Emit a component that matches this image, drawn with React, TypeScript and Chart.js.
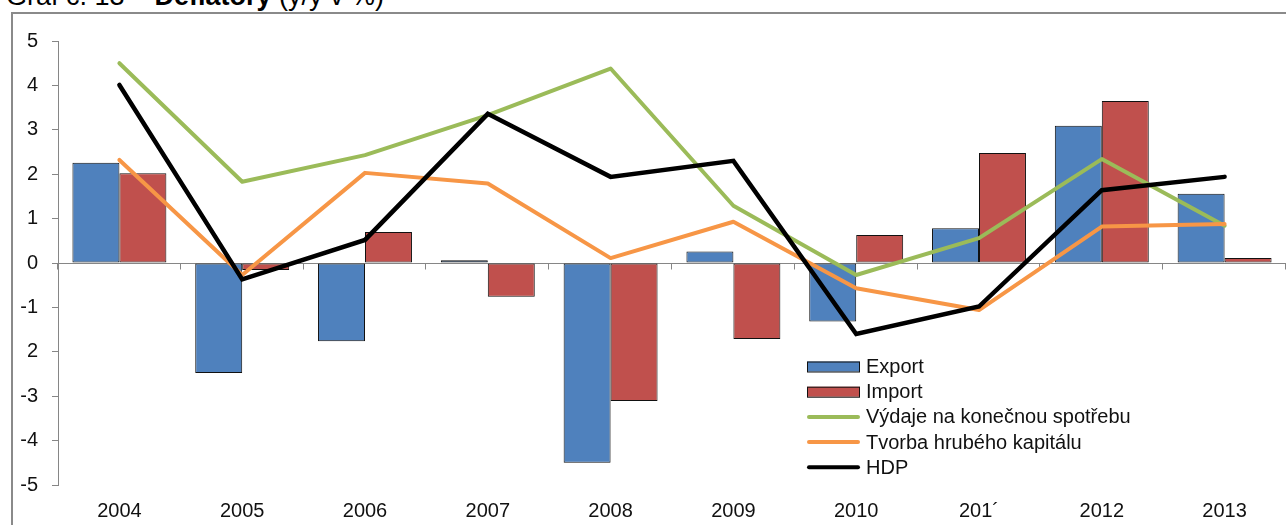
import React, { useEffect, useRef } from 'react';
import { Chart, registerables } from 'chart.js';

Chart.register(...registerables);

const categories = ['2004', '2005', '2006', '2007', '2008', '2009', '2010', '201´', '2012', '2013'];
const exportValues = [2.26, -2.48, -1.76, 0.06, -4.5, 0.26, -1.32, 0.78, 3.09, 1.56];
const importValues = [2.02, -0.16, 0.7, -0.76, -3.11, -1.71, 0.63, 2.48, 3.65, 0.11];
const spotrebaValues = [4.5, 1.83, 2.43, 3.33, 4.38, 1.29, -0.27, 0.56, 2.34, 0.84];
const kapitalValues = [2.32, -0.27, 2.03, 1.79, 0.11, 0.93, -0.57, -1.06, 0.82, 0.88];
const hdpValues = [4.01, -0.37, 0.52, 3.36, 1.94, 2.3, -1.6, -0.98, 1.64, 1.94];
const yTickLabels = ['-5', '-4', '-3', '2', '-1', '0', '1', '2', '3', '4', '5'];
const seriesLabels = ['Export', 'Import', 'Výdaje na konečnou spotřebu', 'Tvorba hrubého kapitálu', 'HDP'];

const FONT = "'Liberation Sans', Arial, sans-serif";
const AXIS_GRAY = '#868686';

const zeroAxisPlugin = {
  id: 'zeroAxis',
  beforeDatasetsDraw(chart: any) {
    const { ctx, chartArea, scales } = chart;
    const y0 = Math.round(scales.y.getPixelForValue(0)) + 0.5;
    ctx.save();
    ctx.strokeStyle = AXIS_GRAY;
    ctx.lineWidth = 1;
    ctx.beginPath();
    ctx.moveTo(chartArea.left, y0);
    ctx.lineTo(chartArea.right, y0);
    const n = categories.length;
    for (let i = 0; i <= n; i++) {
      const x = Math.round(scales.x.getPixelForValue(i - 0.5)) - 0.5;
      ctx.moveTo(x, y0);
      ctx.lineTo(x, y0 + 6);
    }
    ctx.stroke();
    ctx.restore();
  },
};

const insideLegendPlugin = {
  id: 'insideLegend',
  afterDraw(chart: any) {
    const { ctx, chartArea } = chart;
    const x0 = chartArea.left + 749;
    const yStart = chartArea.top + 325.5;
    const row = 25.2;
    const sw = 53;
    ctx.save();
    ctx.font = `20px ${FONT}`;
    ctx.textBaseline = 'middle';
    ctx.textAlign = 'left';
    chart.data.datasets.forEach((ds: any, i: number) => {
      const y = yStart + i * row;
      if (ds.type === 'line') {
        ctx.strokeStyle = ds.borderColor;
        ctx.lineWidth = 4;
        ctx.lineCap = 'round';
        ctx.beginPath();
        ctx.moveTo(x0 + 2, y);
        ctx.lineTo(x0 + sw - 2, y);
        ctx.stroke();
      } else {
        ctx.fillStyle = ds.backgroundColor;
        ctx.fillRect(x0, y - 5, sw, 10);
        ctx.strokeStyle = '#111';
        ctx.lineWidth = 1;
        ctx.strokeRect(x0 + 0.5, y - 5 + 0.5, sw - 1, 10);
      }
      ctx.fillStyle = '#111';
      ctx.fillText(ds.label, x0 + sw + 6, y + 1);
    });
    ctx.restore();
  },
};

export default function App() {
  const ref = useRef<HTMLCanvasElement>(null);

  useEffect(() => {
    const canvas = ref.current;
    if (!canvas) return;
    const chart = new Chart(canvas, {
      type: 'bar',
      data: {
        labels: categories,
        datasets: [
          {
            type: 'bar',
            label: seriesLabels[0],
            data: exportValues,
            backgroundColor: '#4F81BD',
            borderColor: '#111',
            borderWidth: 1,
            borderSkipped: false,
            categoryPercentage: 0.765,
            barPercentage: 1.0,
            order: 10,
          },
          {
            type: 'bar',
            label: seriesLabels[1],
            data: importValues,
            backgroundColor: '#C0504D',
            borderColor: '#111',
            borderWidth: 1,
            borderSkipped: false,
            categoryPercentage: 0.765,
            barPercentage: 1.0,
            order: 10,
          },
          {
            type: 'line',
            label: seriesLabels[2],
            data: spotrebaValues,
            borderColor: '#9BBB59',
            backgroundColor: '#9BBB59',
            borderWidth: 4,
            pointRadius: 0,
            tension: 0,
            borderJoinStyle: 'round',
            borderCapStyle: 'round',
            order: 3,
          },
          {
            type: 'line',
            label: seriesLabels[3],
            data: kapitalValues,
            borderColor: '#F79646',
            backgroundColor: '#F79646',
            borderWidth: 4,
            pointRadius: 0,
            tension: 0,
            borderJoinStyle: 'round',
            borderCapStyle: 'round',
            order: 2,
          },
          {
            type: 'line',
            label: seriesLabels[4],
            data: hdpValues,
            borderColor: '#000000',
            backgroundColor: '#000000',
            borderWidth: 4.5,
            pointRadius: 0,
            tension: 0,
            borderJoinStyle: 'miter',
            borderCapStyle: 'round',
            order: 1,
          },
        ] as any,
      },
      options: {
        animation: false,
        responsive: false,
        maintainAspectRatio: false,
        devicePixelRatio: 1,
        layout: { padding: { left: 0, right: 14, top: 41, bottom: 0 } },
        plugins: {
          legend: { display: false },
          tooltip: { enabled: false },
          title: { display: false },
        },
        scales: {
          x: {
            offset: true,
            grid: { display: false, drawTicks: false },
            border: { display: false },
            ticks: {
              color: '#111',
              font: { family: FONT, size: 20 },
              padding: 14,
              maxRotation: 0,
              autoSkip: false,
            },
            afterFit: (scale: any) => {
              scale.height = 40;
            },
          },
          y: {
            min: -5,
            max: 5,
            border: { display: true, color: AXIS_GRAY, width: 1 },
            grid: {
              display: true,
              drawOnChartArea: false,
              drawTicks: true,
              tickLength: 6,
              color: AXIS_GRAY,
            },
            ticks: {
              stepSize: 1,
              color: '#111',
              font: { family: FONT, size: 20 },
              padding: 14,
              callback: (_v: any, i: number) => yTickLabels[i],
            },
            afterFit: (scale: any) => {
              scale.width = 58;
            },
          },
        },
      } as any,
      plugins: [zeroAxisPlugin, insideLegendPlugin],
    });
    return () => chart.destroy();
  }, []);

  return (
    <div
      style={{
        position: 'fixed',
        left: 0,
        top: 0,
        width: 1286,
        height: 525,
        overflow: 'hidden',
        background: '#fff',
      }}
    >
      <div
        style={{
          position: 'absolute',
          left: 11,
          top: 12,
          width: 1400,
          height: 700,
          border: '2px solid #8a8a8a',
          boxSizing: 'border-box',
        }}
      />
      <div
        style={{
          position: 'absolute',
          left: 6,
          top: -19,
          fontFamily: FONT,
          fontSize: 27,
          lineHeight: 'normal',
          whiteSpace: 'nowrap',
          color: '#000',
        }}
      >
        Graf č. 13 – <b>Deflátory</b> (y/y v %)
      </div>
      <canvas
        ref={ref}
        width={1300}
        height={525}
        style={{ position: 'absolute', left: 0, top: 0, width: 1300, height: 525 }}
      />
    </div>
  );
}
